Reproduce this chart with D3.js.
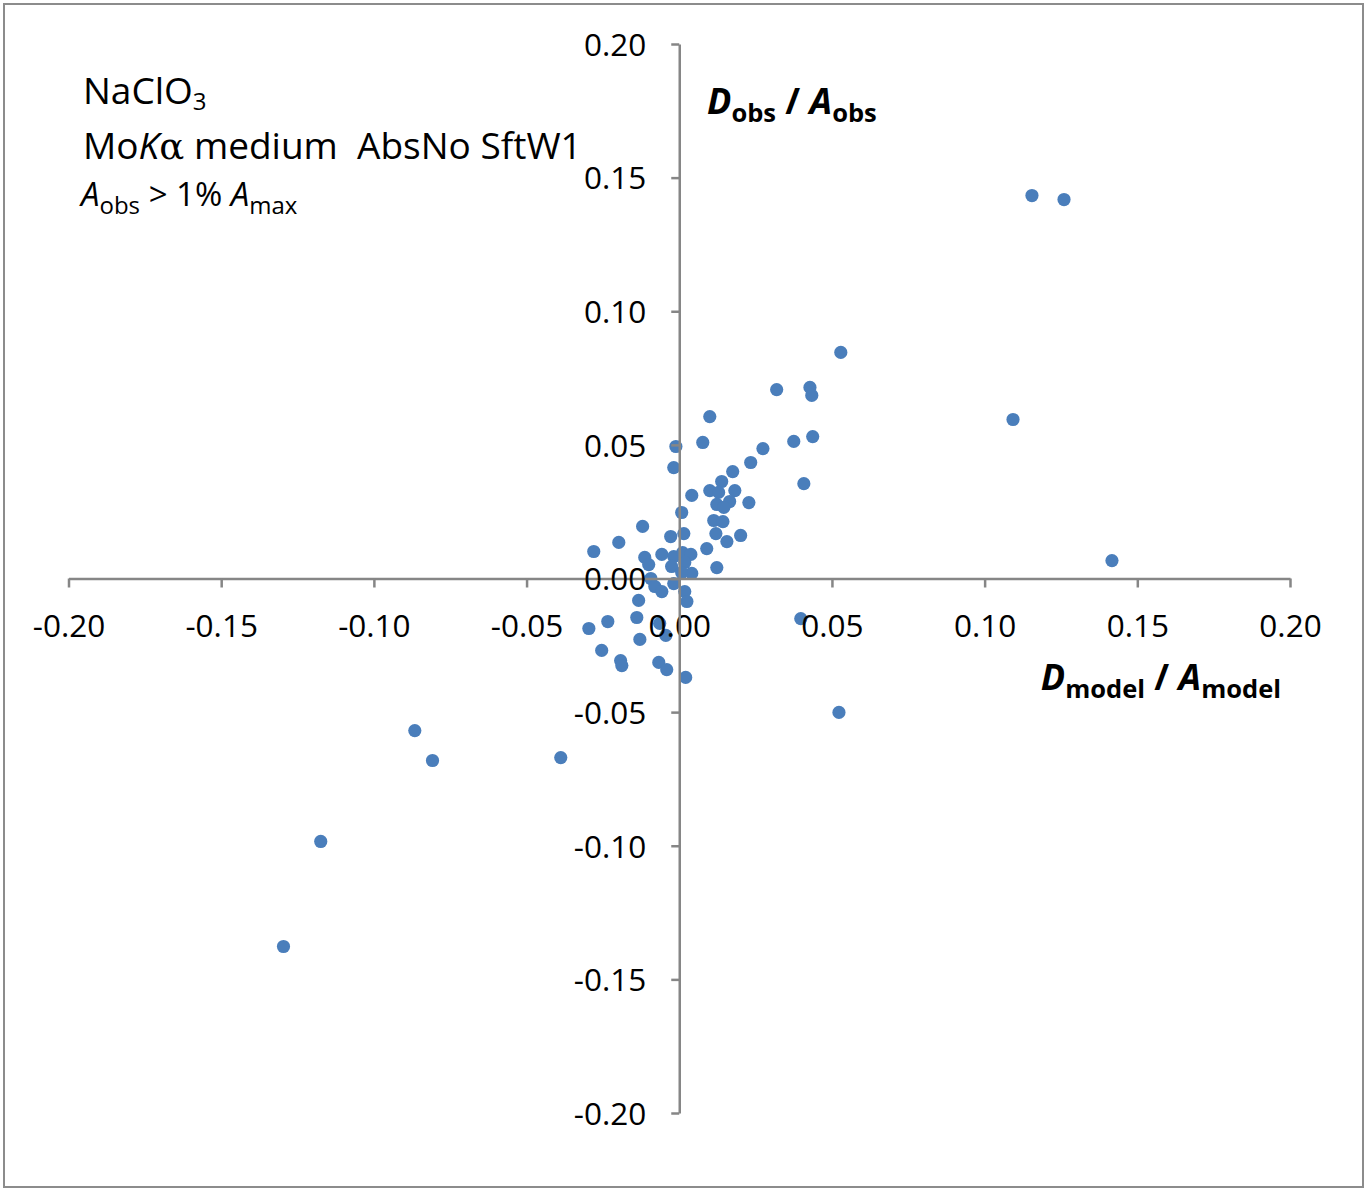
<!DOCTYPE html>
<html><head><meta charset="utf-8">
<script src="https://cdn.jsdelivr.net/npm/d3@7"></script>
<style>
body{margin:0;background:#fff}
svg{display:block}
text{font-family:"Open Sans",sans-serif}
</style>
</head><body>
<script>
const xTickValues = [-0.20,-0.15,-0.10,-0.05,0.00,0.05,0.10,0.15,0.20];
const xTickLabels = ["-0.20","-0.15","-0.10","-0.05","0.00","0.05","0.10","0.15","0.20"];
const yTickValues = [-0.20,-0.15,-0.10,-0.05,0.00,0.05,0.10,0.15,0.20];
const yTickLabels = ["-0.20","-0.15","-0.10","-0.05","0.00","0.05","0.10","0.15","0.20"];

// D_model / A_model
const xValues = [
 0.0100, 0.0077,-0.0011,-0.0018, 0.0274, 0.0234, 0.0175, 0.0139, 0.0100, 0.0129,
 0.0182, 0.0041, 0.0123, 0.0165, 0.0146, 0.0228, 0.0008, 0.0113, 0.0143, 0.0120,
 0.0201, 0.0156, 0.0090, 0.0123, 0.0041,-0.0120,-0.0198,-0.0280, 0.0015,-0.0028,
-0.0057,-0.0113,-0.0018, 0.0011, 0.0038,-0.0100,-0.0025, 0.0018, 0.0008,-0.0018,
-0.0093,-0.0080,-0.0057, 0.0018,-0.0133, 0.0025,-0.0296,-0.0234,-0.0139,-0.0064,
-0.0044,-0.0129,-0.0254,-0.0192,-0.0188,-0.0067,-0.0041, 0.0021, 0.0319, 0.0428,
 0.0434, 0.0375, 0.0437, 0.0408, 0.0529, 0.1093, 0.1155, 0.1260, 0.1417, 0.0523,
 0.0398,-0.1296,-0.1174,-0.0866,-0.0808,-0.0388
];
// D_obs / A_obs
const yValues = [
 0.0606, 0.0509, 0.0494, 0.0415, 0.0486, 0.0434, 0.0400, 0.0363, 0.0329, 0.0322,
 0.0329, 0.0311, 0.0277, 0.0288, 0.0266, 0.0284, 0.0247, 0.0217, 0.0213, 0.0168,
 0.0161, 0.0138, 0.0112, 0.0041, 0.0019, 0.0195, 0.0135, 0.0101, 0.0168, 0.0157,
 0.0090, 0.0079, 0.0082, 0.0097, 0.0090, 0.0052, 0.0045, 0.0060, 0.0022,-0.0019,
 0.0000,-0.0030,-0.0049,-0.0049,-0.0082,-0.0086,-0.0187,-0.0161,-0.0146,-0.0168,
-0.0213,-0.0228,-0.0269,-0.0307,-0.0326,-0.0314,-0.0341,-0.0370, 0.0707, 0.0715,
 0.0685, 0.0513, 0.0531, 0.0355, 0.0846, 0.0595, 0.1433, 0.1418, 0.0067,-0.0501,
-0.0150,-0.1377,-0.0984,-0.0569,-0.0681,-0.0670
];

const W = 1366, H = 1189;
const axisColor = "#868686";
const dotColor = "#4A7EBB";

const svg = d3.select("body").append("svg").attr("width", W).attr("height", H);

svg.append("rect").attr("x",4).attr("y",4).attr("width",1359).attr("height",1183)
  .attr("fill","#fff").attr("stroke","#8c8c8c").attr("stroke-width",2);

const x = d3.scaleLinear().domain([-0.2,0.2]).range([68.5,1290]);
const y = d3.scaleLinear().domain([-0.2,0.2]).range([1113,44]);

// points
svg.append("g").selectAll("circle").data(xValues).join("circle")
  .attr("cx", d => x(d))
  .attr("cy", (d,i) => y(yValues[i]))
  .attr("r", 6.6)
  .attr("fill", dotColor);

// x axis
const gx = svg.append("g").attr("transform", `translate(0,${y(0)})`)
  .call(d3.axisBottom(x).tickValues(xTickValues).tickFormat((d,i)=>xTickLabels[i]).tickSize(9).tickSizeOuter(0));
gx.select(".domain").attr("stroke", axisColor).attr("stroke-width", 2.5);
gx.selectAll(".tick line").attr("stroke", axisColor).attr("stroke-width", 2.5);
gx.selectAll(".tick text").attr("y", 58).attr("dy", 0).attr("fill","#000")
  .style("font-size","31.5px").style("font-family","'Open Sans',sans-serif");

// y axis
const gy = svg.append("g").attr("transform", `translate(${x(0)},0)`)
  .call(d3.axisLeft(y).tickValues(yTickValues).tickFormat((d,i)=>yTickLabels[i]).tickSize(8).tickSizeOuter(0));
gy.select(".domain").attr("stroke", axisColor).attr("stroke-width", 2.5);
gy.selectAll(".tick line").attr("stroke", axisColor).attr("stroke-width", 2.5);
gy.selectAll(".tick text").attr("x", -33).attr("dy", "0.36em").attr("fill","#000")
  .style("font-size","31.5px").style("font-family","'Open Sans',sans-serif");

// Title block
const tb = svg.append("g").attr("fill","#000");
const t1 = tb.append("text").attr("x",83).attr("y",104).style("font-size","37px");
t1.append("tspan").text("NaClO");
t1.append("tspan").attr("dy",6).style("font-size","24px").text("3");

const t2 = tb.append("text").attr("x",83).attr("y",159).style("font-size","37px");
t2.append("tspan").text("Mo");
t2.append("tspan").style("font-style","italic").text("K");
t2.append("tspan").style("font-family","'DejaVu Serif',serif").text("\u03B1");
t2.append("tspan").text(" medium\u00A0\u00A0AbsNo SftW1");

const t3 = tb.append("text").attr("x",81).attr("y",206).style("font-size","33px");
t3.append("tspan").style("font-style","italic").text("A");
t3.append("tspan").attr("dy",8).style("font-size","24px").text("obs");
t3.append("tspan").attr("dy",-8).text(" > 1% ");
t3.append("tspan").style("font-style","italic").text("A");
t3.append("tspan").attr("dy",8).style("font-size","24px").text("max");

// Y axis title
const yt = svg.append("text").attr("x",707).attr("y",114).attr("fill","#000")
  .style("font-weight","bold").style("font-size","36px");
yt.append("tspan").style("font-style","italic").text("D");
yt.append("tspan").attr("dy",8).style("font-size","25.5px").text("obs");
yt.append("tspan").attr("dy",-8).text(" / ");
yt.append("tspan").style("font-style","italic").text("A");
yt.append("tspan").attr("dy",8).style("font-size","25.5px").text("obs");

// X axis title
const xt = svg.append("text").attr("x",1281).attr("y",690).attr("text-anchor","end").attr("fill","#000")
  .style("font-weight","bold").style("font-size","36px");
xt.append("tspan").style("font-style","italic").text("D");
xt.append("tspan").attr("dy",8).style("font-size","25.5px").text("model");
xt.append("tspan").attr("dy",-8).text(" / ");
xt.append("tspan").style("font-style","italic").text("A");
xt.append("tspan").attr("dy",8).style("font-size","25.5px").text("model");
</script>
</body></html>
